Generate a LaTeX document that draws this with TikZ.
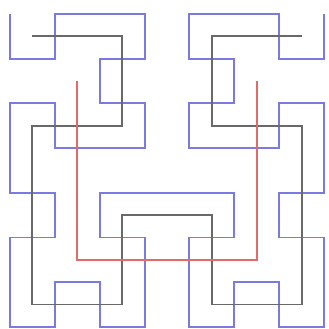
\documentclass[tikz,border=0pt]{standalone}
\definecolor{hblue}{RGB}{122,122,225}
\definecolor{hgray}{RGB}{105,105,105}
\definecolor{hred}{RGB}{228,105,105}
\tikzset{curve/.style={line width=1.9pt,line join=miter}}
\begin{document}
\begin{tikzpicture}
\fill[white] (0,0) rectangle (329pt,329pt);
\useasboundingbox (0,0) rectangle (329pt,329pt);
\begin{scope}[shift={(10pt,315pt)},x=44.86pt,y=-44.7pt]
\draw[curve,hblue] (0,0)--(0,1)--(1,1)--(1,0)--(2,0)--(3,0)--(3,1)--(2,1)--(2,2)--(3,2)--(3,3)--(2,3)--(1,3)--(1,2)--(0,2)--(0,3)
--(0,4)--(1,4)--(1,5)--(0,5)--(0,6)--(0,7)--(1,7)--(1,6)--(2,6)--(2,7)--(3,7)--(3,6)--(3,5)--(2,5)--(2,4)--(3,4)
--(4,4)--(5,4)--(5,5)--(4,5)--(4,6)--(4,7)--(5,7)--(5,6)--(6,6)--(6,7)--(7,7)--(7,6)--(7,5)--(6,5)--(6,4)--(7,4)
--(7,3)--(7,2)--(6,2)--(6,3)--(5,3)--(4,3)--(4,2)--(5,2)--(5,1)--(4,1)--(4,0)--(5,0)--(6,0)--(6,1)--(7,1)--(7,0);
\draw[curve,hgray] (0.5,0.5)--(2.5,0.5)--(2.5,2.5)--(0.5,2.5)--(0.5,4.5)--(0.5,6.5)--(2.5,6.5)--(2.5,4.5)--(4.5,4.5)--(4.5,6.5)--(6.5,6.5)--(6.5,4.5)--(6.5,2.5)--(4.5,2.5)--(4.5,0.5)--(6.5,0.5);
\draw[curve,hred] (1.5,1.5)--(1.5,5.5)--(5.5,5.5)--(5.5,1.5);
\end{scope}
\end{tikzpicture}
\end{document}
